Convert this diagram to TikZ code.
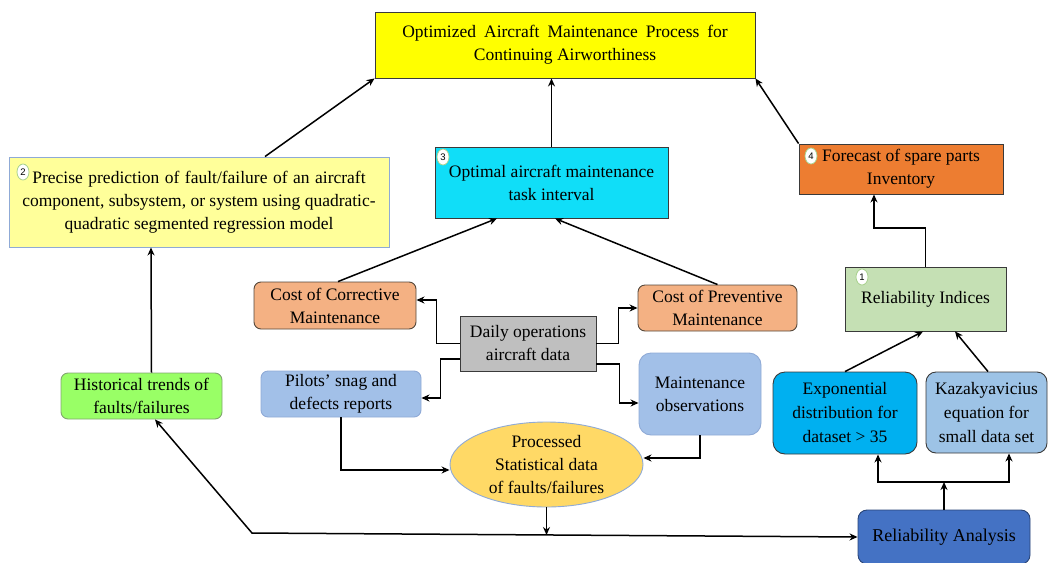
\documentclass[tikz,border=0pt]{standalone}
\usepackage{fontspec}
\setmainfont{Liberation Serif}
\newfontfamily\badgefont{Liberation Sans}
\usetikzlibrary{shapes.geometric,arrows.meta}
\definecolor{cTop}{HTML}{FFFF00}
\definecolor{cPrecise}{HTML}{FFFF9A}
\definecolor{cOptimal}{HTML}{10DEF8}
\definecolor{cForecast}{HTML}{ED7D31}
\definecolor{cRelInd}{HTML}{C5E0B4}
\definecolor{cCost}{HTML}{F4B183}
\definecolor{cDaily}{HTML}{BFBFBF}
\definecolor{cPilot}{HTML}{A2C0E8}
\definecolor{cHist}{HTML}{99FF66}
\definecolor{cEll}{HTML}{FFD966}
\definecolor{cExpo}{HTML}{00B0F0}
\definecolor{cKaz}{HTML}{9DC3E6}
\definecolor{cRelAn}{HTML}{4472C4}
\definecolor{cEdge}{HTML}{3A3A3A}
\definecolor{cBlueEdge}{HTML}{8FAAD6}
\definecolor{cBadge}{HTML}{A9D18E}
\tikzset{
  box/.style={draw=cEdge, line width=0.9pt, inner sep=0pt, align=center,
    font=\fontsize{17.5}{23}\selectfont},
  rbox/.style={box, rounded corners=7pt},
  badge/.style={ellipse, draw=cBadge, line width=0.8pt, fill=white, inner sep=0pt,
    minimum width=12pt, minimum height=16pt, font=\fontsize{9.5}{9.5}\badgefont},
  arr/.style={line width=1.5pt, -{Stealth[length=8pt,width=7pt]}},
  arrb/.style={line width=1.5pt, {Stealth[length=8pt,width=7pt]}-{Stealth[length=8pt,width=7pt]}}
}
\begin{document}
\begin{tikzpicture}[x=1pt,y=-1pt]
\useasboundingbox (0,0) rectangle (1048,562);
% nodes
\node[box, fill=cTop, minimum width=380pt, minimum height=66pt] (top) at (565,45)
  {\spaceskip=8pt plus 2pt\relax Optimized Aircraft Maintenance Process for\\Continuing Airworthiness};
\node[box, draw=cBlueEdge, fill=cPrecise, minimum width=380pt, minimum height=90pt] (precise) at (199,202)
  {\spaceskip=5.5pt plus 2pt\relax Precise prediction of fault/failure of an aircraft\\component, subsystem, or system using quadratic-\\quadratic segmented regression model};
\node[box, fill=cOptimal, minimum width=233pt, minimum height=71pt] (optimal) at (551.5,182.5)
  {Optimal aircraft maintenance\\task interval};
\node[box, fill=cForecast, minimum width=204pt, minimum height=50pt] (forecast) at (901,169)
  {Forecast of spare parts\\Inventory};
\node[box, fill=cRelInd, minimum width=161pt, minimum height=64pt] (relind) at (925.5,299)
  {Reliability Indices};
\node[rbox, draw=cEdge!80!brown, fill=cCost, minimum width=162pt, minimum height=47pt] (costc) at (335,305.5)
  {Cost of Corrective\\Maintenance};
\node[rbox, draw=cEdge!80!brown, fill=cCost, minimum width=159pt, minimum height=46pt] (costp) at (717.5,308)
  {Cost of Preventive\\Maintenance};
\node[box, fill=cDaily, minimum width=136pt, minimum height=55pt] (daily) at (528,343.5)
  {Daily operations\\aircraft data};
\node[rbox, draw=cBlueEdge, fill=cPilot, minimum width=160pt, minimum height=46pt] (pilots) at (341,394)
  {Pilots’ snag and\\defects reports};
\node[rbox, rounded corners=12pt, draw=cBlueEdge, fill=cPilot, minimum width=122pt, minimum height=82pt] (maint) at (700,394)
  {Maintenance\\observations};
\node[rbox, draw=cHist!50!black!70, fill=cHist, minimum width=161pt, minimum height=46pt] (hist) at (141.5,396)
  {Historical trends of\\faults/failures};
\node[box, ellipse, draw=cBlueEdge, fill=cEll, minimum width=193pt, minimum height=85pt] (ell) at (546.5,464.5)
  {Processed\\Statistical data\\of faults/failures};
\node[rbox, rounded corners=12pt, fill=cExpo, minimum width=144pt, minimum height=82pt,
      font=\fontsize{17.5}{24}\selectfont] (expo) at (845,413)
  {Exponential\\distribution for\\dataset > 35};
\node[rbox, rounded corners=10pt, fill=cKaz, minimum width=121pt, minimum height=81pt,
      font=\fontsize{17.5}{24}\selectfont] (kazak) at (986.5,412.5)
  {Kazakyavicius\\equation for\\small data set};
\node[rbox, rounded corners=9pt, draw=cRelAn!60!black, fill=cRelAn, minimum width=172pt, minimum height=54pt,
      font=\fontsize{18}{23}\selectfont] (relan) at (944,537)
  {Reliability Analysis};
% badges
\node[badge] (b2) at (23,172) {2};
\node[badge] (b3) at (443,157) {3};
\node[badge] (b4) at (811,156) {4};
\node[badge] (b1) at (862,277) {1};
% junctions
\coordinate (fk) at (874,228);
\coordinate (bj) at (252,533);
\coordinate (rj) at (944,482);
% connectors
\draw[arr] ([xshift=66pt]precise.north) -- (top.south west);
\draw[arr] (optimal.north) -- (optimal.north |- top.south);
\draw[arr] (forecast.north west) -- (top.south east);
\draw[arr] (relind.north) |- (fk) -- (fk |- forecast.south);
\draw[arr] ([xshift=10pt]hist.north) -- ([xshift=-48pt]precise.south);
\draw[arr] ([xshift=3pt]costc.north) -- ([xshift=-54.5pt]optimal.south);
\draw[arr] (costp.north) -- ([xshift=3.5pt]optimal.south);
\draw[arr] (daily.west) -- ++(-23,0) |- ([yshift=5.5pt]costc.east);
\draw[arr] ([yshift=-15.5pt]daily.west) -- ++(-19,0) |- ([yshift=-4pt]pilots.east);
\draw[arr] (daily.east) -- ++(22,0) |- (costp.west);
\draw[arr] ([yshift=-20.5pt]daily.east) -- ++(23,0) |- ([yshift=-9pt]maint.west);
\draw[arr] (pilots.south) |- ([yshift=-5.5pt]ell.west);
\draw[arr] (maint.south) |- ([yshift=6.5pt]ell.east);
\draw[arr] (ell.south) -- (ell.south |- 0,535);
\draw[arrb] ([xshift=13.5pt]hist.south) -- (bj) -- (relan.west);
\draw[arr] (relan.north) -- (rj);
\draw[arr] (rj) -| ([xshift=33pt]expo.south);
\draw[arr] (rj) -| ([xshift=22.5pt]kazak.south);
\draw[arr] (expo.north) -- ([xshift=-2.5pt]relind.south);
\draw[arr] ([xshift=1.5pt]kazak.north) -- ([xshift=29.5pt]relind.south);
\end{tikzpicture}
\end{document}
